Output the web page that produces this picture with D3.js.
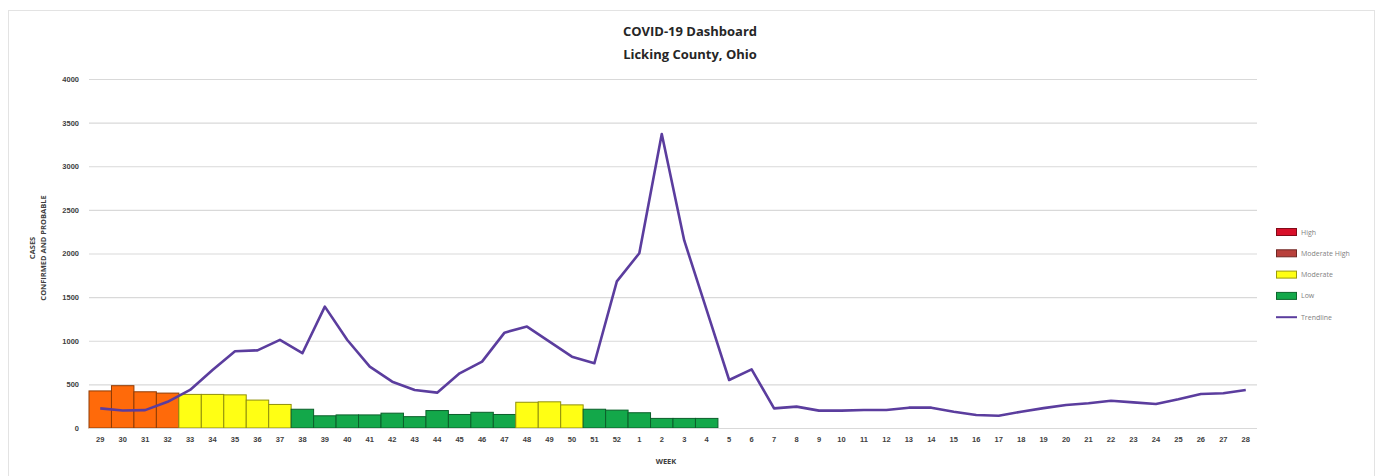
<!DOCTYPE html>
<html>
<head>
<meta charset="utf-8">
<script src="https://cdn.jsdelivr.net/npm/d3@7"></script>
<style>
  html, body { margin: 0; padding: 0; background: #fff; }
  svg { display: block; font-family: "Open Sans", "Liberation Sans", sans-serif; }
</style>
</head>
<body>
<svg id="chart" width="1375" height="476"></svg>
<script>
// Week labels (week 29 of 2020 through week 28 of 2021)
const weeks = ["29","30","31","32","33","34","35","36","37","38","39","40","41","42","43","44","45","46","47","48","49","50","51","52",
               "1","2","3","4","5","6","7","8","9","10","11","12","13","14","15","16","17","18","19","20","21","22","23","24","25","26","27","28"];

// Weekly bar values (weeks 29 .. 4) and their alert level
const barValues = [425, 485, 415, 400, 385, 385, 380, 320, 270, 215, 140, 150, 150, 170, 130, 200, 155, 180, 155, 295, 300, 265, 215, 205, 175, 110, 110, 110];
const barLevels = ["Moderate High","Moderate High","Moderate High","Moderate High",
                   "Moderate","Moderate","Moderate","Moderate","Moderate",
                   "Low","Low","Low","Low","Low","Low","Low","Low","Low","Low",
                   "Moderate","Moderate","Moderate",
                   "Low","Low","Low","Low","Low","Low"];

// Weekly confirmed and probable cases
const caseValues = [225, 200, 205, 300, 436, 665, 880, 890, 1010, 857, 1391, 1009, 703, 531, 436, 405, 627, 761, 1093, 1162, 990, 818, 742, 1680,
                    2003, 3370, 2150, 1350, 550, 672, 225, 245, 199, 199, 206, 206, 233, 233, 187, 149, 141, 187, 228, 264, 283, 313, 294, 275, 329, 390, 398, 436];

const yTicks = [0, 500, 1000, 1500, 2000, 2500, 3000, 3500, 4000];

const legendItems = ["High", "Moderate High", "Moderate", "Low", "Trendline"];
const levelFill = { "High": "#e0112b", "Moderate High": "#ff6a0a", "Moderate": "#ffff14", "Low": "#13a84a" };
const legendFill = { "High": "#d8102a", "Moderate High": "#b8403c", "Moderate": "#ffff14", "Low": "#13a84a" };

const svg = d3.select("#chart");
const W = 1375, H = 476;
const plot = { left: 89, right: 1257, top: 79, bottom: 428 };

// Outer chart frame
svg.append("rect").attr("x", 8.5).attr("y", 10.5).attr("width", W - 9).attr("height", H - 10)
  .attr("fill", "#fff").attr("stroke", "#e3e3e3");

const x = d3.scaleBand().domain(weeks).range([plot.left, plot.right]).padding(0);
const y = d3.scaleLinear().domain([0, 4000]).range([plot.bottom, plot.top]);

// Horizontal gridlines and y labels
const yAxis = d3.axisLeft(y).tickValues(yTicks).tickFormat(d3.format("d"))
  .tickSize(-(plot.right - plot.left)).tickPadding(10);
const gy = svg.append("g").attr("transform", `translate(${plot.left},0)`).call(yAxis);
gy.select(".domain").remove();
gy.selectAll(".tick line").attr("stroke", "#d9d9d9").attr("stroke-width", 1.2);
gy.selectAll(".tick text").attr("fill", "#404040").style("font-size", "7.5px").style("font-weight", "bold");

// Bars
svg.append("g").selectAll("rect").data(barValues).join("rect")
  .attr("x", (d, i) => x(weeks[i]))
  .attr("y", d => y(d))
  .attr("width", x.bandwidth())
  .attr("height", d => y(0) - y(d))
  .attr("fill", (d, i) => levelFill[barLevels[i]])
  .attr("stroke", (d, i) => d3.color(levelFill[barLevels[i]]).darker(1.6))
  .attr("stroke-width", 1);

// Baseline
svg.append("line").attr("x1", plot.left).attr("x2", plot.right)
  .attr("y1", y(0) + 0.5).attr("y2", y(0) + 0.5).attr("stroke", "#d9d9d9").attr("stroke-width", 1.2);

// Case trend line
const line = d3.line()
  .x((d, i) => x(weeks[i]) + x.bandwidth() / 2)
  .y(d => y(d));
svg.append("path").datum(caseValues)
  .attr("d", line)
  .attr("fill", "none")
  .attr("stroke", "#5b3d9e")
  .attr("stroke-width", 2.6)
  .attr("stroke-linejoin", "round");

// X axis labels
const xAxis = d3.axisBottom(x).tickSize(0).tickPadding(9);
const gx = svg.append("g").attr("transform", `translate(0,${plot.bottom})`).call(xAxis);
gx.select(".domain").remove();
gx.selectAll(".tick text").attr("fill", "#404040").style("font-size", "7.5px").style("font-weight", "bold");

// Axis titles
svg.append("text").attr("x", 666).attr("y", 464)
  .attr("text-anchor", "middle").attr("fill", "#404040")
  .style("font-size", "7.5px").style("font-weight", "bold").text("WEEK");

const yt = svg.append("g").attr("transform", `translate(38,248) rotate(-90)`);
yt.append("text").attr("x", 0).attr("y", -3).attr("text-anchor", "middle").attr("fill", "#404040")
  .style("font-size", "7.5px").style("font-weight", "bold").text("CASES");
yt.append("text").attr("x", 0).attr("y", 8).attr("text-anchor", "middle").attr("fill", "#404040")
  .style("font-size", "7.5px").style("font-weight", "bold").text("CONFIRMED AND PROBABLE");

// Title
svg.append("text").attr("x", 690).attr("y", 36).attr("text-anchor", "middle").attr("fill", "#262626")
  .style("font-size", "13px").style("font-weight", "bold").text("COVID-19 Dashboard");
svg.append("text").attr("x", 690).attr("y", 59).attr("text-anchor", "middle").attr("fill", "#262626")
  .style("font-size", "13px").style("font-weight", "bold").text("Licking County, Ohio");

// Legend
const lg = svg.append("g").attr("transform", "translate(1276,232)");
legendItems.forEach((name, i) => {
  const row = lg.append("g").attr("transform", `translate(0,${i * 21.3})`);
  if (name === "Trendline") {
    row.append("line").attr("x1", 0).attr("x2", 21).attr("y1", 0).attr("y2", 0)
      .attr("stroke", "#5b3d9e").attr("stroke-width", 2);
  } else {
    row.append("rect").attr("x", 0.5).attr("y", -3.5).attr("width", 20).attr("height", 7)
      .attr("fill", legendFill[name]).attr("stroke", d3.color(legendFill[name]).darker(1.4)).attr("stroke-width", 1);
  }
  row.append("text").attr("x", 25).attr("y", 2.5).attr("fill", "#7f7f7f")
    .style("font-size", "7px").text(name);
});
</script>
</body>
</html>
